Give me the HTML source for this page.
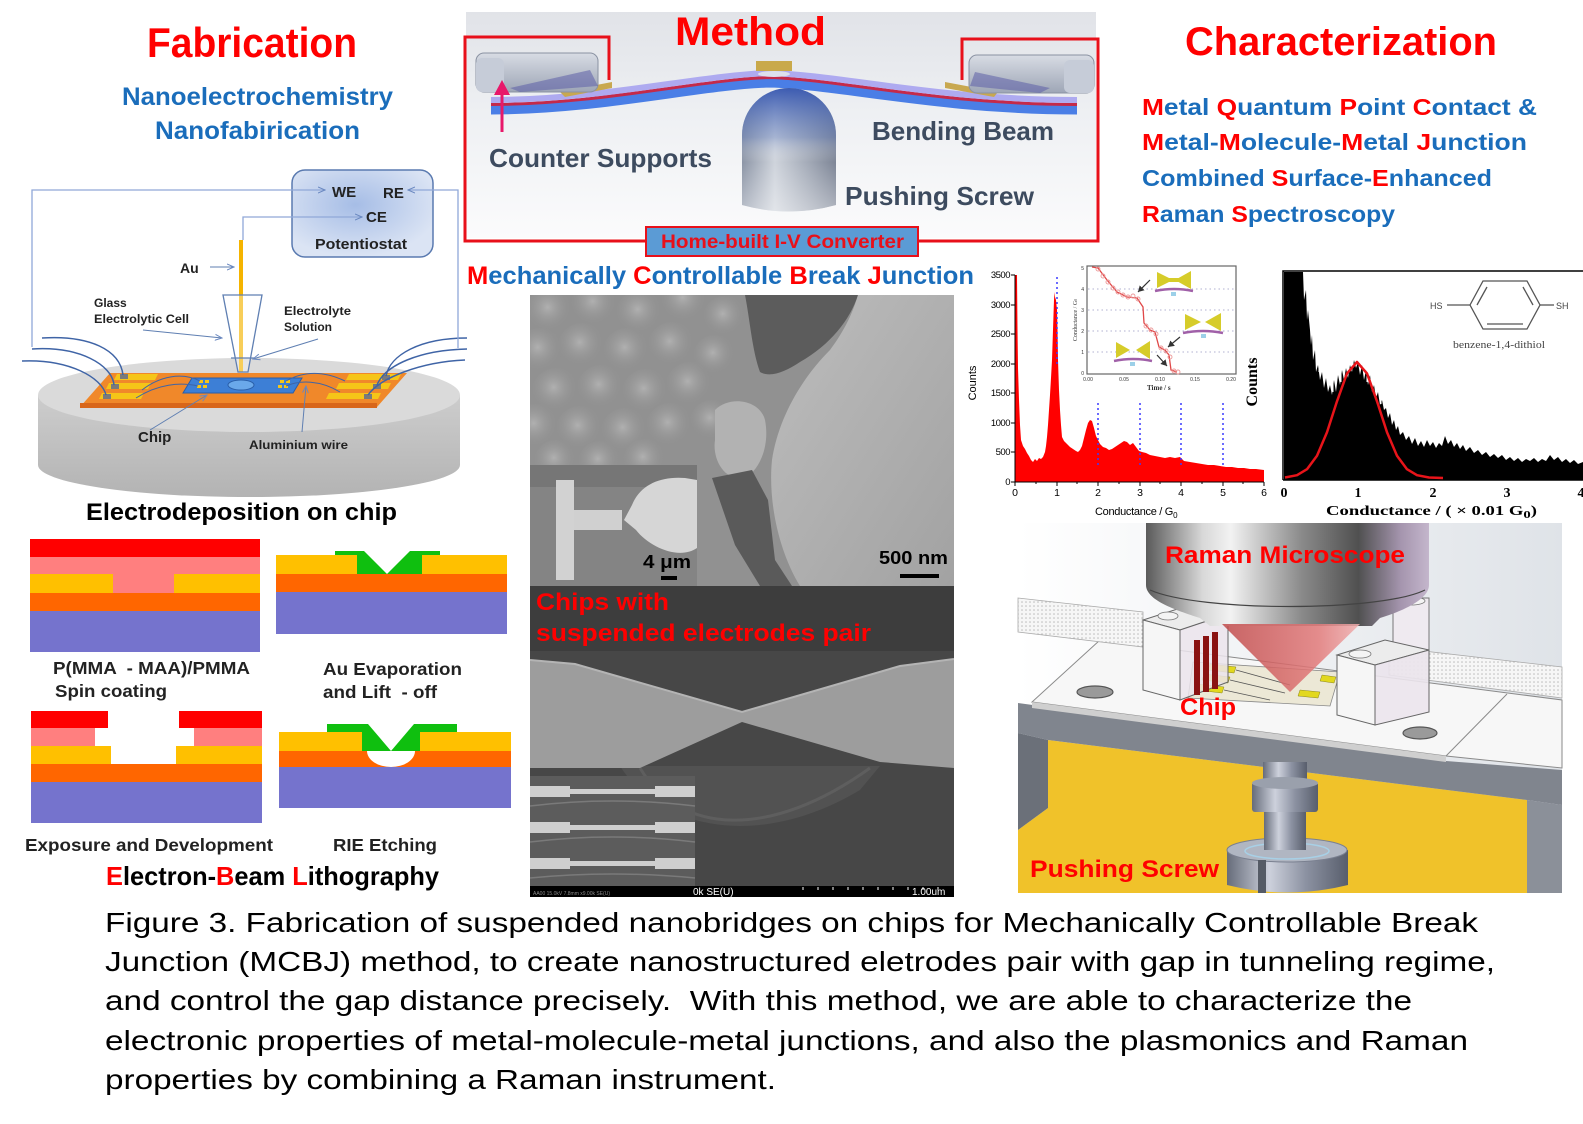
<!DOCTYPE html>
<html><head><meta charset="utf-8">
<style>
html,body{margin:0;padding:0;background:#fff;}
svg{display:block;}
text{font-family:"Liberation Sans",Arial,sans-serif;}
.b{font-weight:bold;}
.sr{font-family:"Liberation Serif","Times New Roman",serif;}
</style></head><body>
<svg width="1583" height="1124" viewBox="0 0 1583 1124" xmlns="http://www.w3.org/2000/svg">
<defs>
<linearGradient id="mbg" x1="0" y1="0" x2="0" y2="1"><stop offset="0" stop-color="#e1e3e8"/><stop offset="0.45" stop-color="#eef0f3"/><stop offset="1" stop-color="#fbfbfc"/></linearGradient>
<linearGradient id="sup" x1="0" y1="0" x2="0" y2="1"><stop offset="0" stop-color="#d8dce4"/><stop offset="1" stop-color="#9ea6b6"/></linearGradient>
<linearGradient id="scrH" x1="0" y1="0" x2="1" y2="0"><stop offset="0" stop-color="#8c95a6"/><stop offset="0.35" stop-color="#cfd4dc"/><stop offset="0.7" stop-color="#a4abb8"/><stop offset="1" stop-color="#7d8596"/></linearGradient>
<linearGradient id="scrV" x1="0" y1="0" x2="0" y2="1"><stop offset="0" stop-color="#3656b0" stop-opacity="0.95"/><stop offset="0.4" stop-color="#5a78c0" stop-opacity="0.35"/><stop offset="0.6" stop-color="#ffffff" stop-opacity="0"/><stop offset="1" stop-color="#ffffff" stop-opacity="0.4"/></linearGradient>
<radialGradient id="pot" cx="0.45" cy="0.4" r="0.6"><stop offset="0" stop-color="#a6bde6"/><stop offset="1" stop-color="#dbe4f4"/></radialGradient>
<linearGradient id="dside" x1="0" y1="0" x2="0" y2="1"><stop offset="0" stop-color="#cdcdcd"/><stop offset="1" stop-color="#b3b3b3"/></linearGradient>
<radialGradient id="bub" cx="0.45" cy="0.4" r="0.55"><stop offset="0" stop-color="#b0b0b0"/><stop offset="1" stop-color="#8c8c8c" stop-opacity="0"/></radialGradient>
<linearGradient id="blob" x1="0" y1="0" x2="1" y2="1"><stop offset="0" stop-color="#bdbdbd"/><stop offset="1" stop-color="#a2a2a2"/></linearGradient>
<linearGradient id="obj" x1="0" y1="0" x2="1" y2="0"><stop offset="0" stop-color="#5a5a5a"/><stop offset="0.2" stop-color="#d8d8d8"/><stop offset="0.3" stop-color="#f2f2f2"/><stop offset="0.55" stop-color="#8a8a8a"/><stop offset="0.75" stop-color="#505050"/><stop offset="0.9" stop-color="#a595ae"/><stop offset="1" stop-color="#c4b6cc"/></linearGradient>
<linearGradient id="cone" x1="0" y1="0" x2="1" y2="0"><stop offset="0" stop-color="#c04a4a"/><stop offset="0.7" stop-color="#e27a7a"/><stop offset="1" stop-color="#f0b0b0"/></linearGradient>
<linearGradient id="met" x1="0" y1="0" x2="1" y2="0"><stop offset="0" stop-color="#666c7a"/><stop offset="0.35" stop-color="#cdd1dc"/><stop offset="0.65" stop-color="#8c92a2"/><stop offset="1" stop-color="#585e6c"/></linearGradient>
<linearGradient id="rbg" x1="0" y1="0" x2="1" y2="0"><stop offset="0" stop-color="#ffffff"/><stop offset="1" stop-color="#dfe3e8"/></linearGradient>
<pattern id="dots" width="4" height="4" patternUnits="userSpaceOnUse"><rect width="4" height="4" fill="#f6f6f6"/><circle cx="2" cy="2" r="0.8" fill="#bcbcbc"/></pattern>
<clipPath id="semTop"><rect x="530" y="295" width="424" height="291"/></clipPath>
<clipPath id="semBot"><rect x="530" y="586" width="424" height="311"/></clipPath>
<marker id="ah" markerWidth="8" markerHeight="8" refX="7" refY="4" orient="auto" markerUnits="userSpaceOnUse"><path d="M0,1 L7,4 L0,7" fill="none" stroke="#6a88c0" stroke-width="1"/></marker>
<marker id="ak" markerWidth="7" markerHeight="7" refX="6" refY="3.5" orient="auto" markerUnits="userSpaceOnUse"><path d="M0,0 L6,3.5 L0,7 Z" fill="#333"/></marker>
</defs>

<!-- ===== Top titles ===== -->
<text x="147" y="57" class="b" font-size="42" fill="#f00" textLength="210" lengthAdjust="spacingAndGlyphs">Fabrication</text>
<text x="122" y="105" class="b" font-size="25" fill="#1a6dbb" textLength="271" lengthAdjust="spacingAndGlyphs">Nanoelectrochemistry</text>
<text x="155" y="139" class="b" font-size="25" fill="#1a6dbb" textLength="205" lengthAdjust="spacingAndGlyphs">Nanofabirication</text>

<text x="1185" y="55" class="b" font-size="40" fill="#f00" textLength="312" lengthAdjust="spacingAndGlyphs">Characterization</text>
<g class="b" font-size="23" fill="#1a6dbb">
<text x="1142" y="115" class="b" textLength="395" lengthAdjust="spacingAndGlyphs"><tspan fill="#f00">M</tspan>etal <tspan fill="#f00">Q</tspan>uantum <tspan fill="#f00">P</tspan>oint <tspan fill="#f00">C</tspan>ontact &amp;</text>
<text x="1142" y="150" class="b" textLength="385" lengthAdjust="spacingAndGlyphs"><tspan fill="#f00">M</tspan>etal-<tspan fill="#f00">M</tspan>olecule-<tspan fill="#f00">M</tspan>etal <tspan fill="#f00">J</tspan>unction</text>
<text x="1142" y="186" class="b" textLength="350" lengthAdjust="spacingAndGlyphs">Combined <tspan fill="#f00">S</tspan>urface-<tspan fill="#f00">E</tspan>nhanced</text>
<text x="1142" y="222" class="b" textLength="253" lengthAdjust="spacingAndGlyphs"><tspan fill="#f00">R</tspan>aman <tspan fill="#f00">S</tspan>pectroscopy</text>
</g>

<!-- ===== Method panel ===== -->
<rect x="466" y="12" width="630" height="226" fill="url(#mbg)"/>
<g fill="none" stroke-linecap="butt">
<path d="M491,97 C600,97 700,72 770,70 C840,72 940,97 1077,97" stroke="#4a7ee6" stroke-width="9" transform="translate(0,13)"/>
<path d="M491,97 C600,97 700,72 770,70 C840,72 940,97 1077,97" stroke="#c42a4a" stroke-width="3" transform="translate(0,7.5)"/>
<path d="M491,97 C600,97 700,72 770,70 C840,72 940,97 1077,97" stroke="#aeaaf0" stroke-width="6" transform="translate(0,3)"/>
</g>
<polygon points="560,92 612,82 612,88 565,97" fill="#c8a850"/>
<polygon points="945,82 998,92 994,97 945,88" fill="#c8a850"/>
<rect x="756" y="61" width="36" height="10" fill="#c9a94a"/>
<ellipse cx="774" cy="74" rx="16" ry="3" fill="#dde0ee"/>
<rect x="476" y="53" width="122" height="39" rx="8" fill="url(#sup)" stroke="#8a92a2" stroke-width="1"/>
<rect x="476" y="58" width="28" height="34" rx="6" fill="#c6ccd8"/>
<polygon points="510,88 590,70 598,86 520,92" fill="#5d5fa8" opacity="0.55"/>
<rect x="969" y="55" width="125" height="38" rx="8" fill="url(#sup)" stroke="#8a92a2" stroke-width="1"/>
<rect x="1064" y="60" width="30" height="33" rx="6" fill="#c6ccd8"/>
<polygon points="975,72 1050,88 1040,93 970,86" fill="#5d5fa8" opacity="0.55"/>
<path d="M742,135 A47,47 0 0 1 836,135 V205 Q789,218 742,205 Z" fill="url(#scrH)"/>
<path d="M742,135 A47,47 0 0 1 836,135 V205 Q789,218 742,205 Z" fill="url(#scrV)"/>
<line x1="502" y1="132" x2="502" y2="92" stroke="#e8186a" stroke-width="3"/>
<polygon points="502,80 494,95 510,95" fill="#e8186a"/>
<path d="M646,241 H465 V37 H609 V80 M962,80 V39 H1098 V241 H918" fill="none" stroke="#e8101a" stroke-width="3"/>
<rect x="646" y="227" width="272" height="29" fill="#5b9bd5" stroke="#e8101a" stroke-width="2"/>
<text x="661" y="248" class="b" font-size="19" fill="#e8101a" textLength="243" lengthAdjust="spacingAndGlyphs">Home-built I-V Converter</text>
<text x="675" y="45" class="b" font-size="40" fill="#f00" textLength="151" lengthAdjust="spacingAndGlyphs">Method</text>
<g class="b" font-size="26" fill="#3d4b5f">
<text x="489" y="167" class="b" textLength="223" lengthAdjust="spacingAndGlyphs">Counter Supports</text>
<text x="872" y="140" class="b" textLength="182" lengthAdjust="spacingAndGlyphs">Bending Beam</text>
<text x="845" y="205" class="b" textLength="189" lengthAdjust="spacingAndGlyphs">Pushing Screw</text>
</g>
<text x="467" y="284" class="b" font-size="25" fill="#1a6dbb" textLength="507" lengthAdjust="spacingAndGlyphs"><tspan fill="#f00">M</tspan>echanically <tspan fill="#f00">C</tspan>ontrollable <tspan fill="#f00">B</tspan>reak <tspan fill="#f00">J</tspan>unction</text>

<!-- ===== Electrodeposition diagram ===== -->
<path d="M38,395 V465 A211,32 0 0 0 460,465 V395 Z" fill="url(#dside)"/>
<ellipse cx="249" cy="395" rx="211" ry="37" fill="#dadada"/>
<polygon points="110,373 407,373 377,407 80,407" fill="#f0882a"/>
<polygon points="80,403 377,403 377,408 80,408" fill="#d8661a"/>
<g fill="#f5c518">
<polygon points="117,374 158,374 155,380 114,380"/>
<polygon points="109,383 151,383 148,389 106,389"/>
<polygon points="102,393 144,393 141,399 99,399"/>
<polygon points="349,374 401,374 398,380 346,380"/>
<polygon points="339,383 391,383 388,389 336,389"/>
<polygon points="329,393 381,393 378,399 326,399"/>
</g>
<g fill="#7a7a7a">
<rect x="120" y="374" width="8" height="5"/><rect x="111" y="384" width="8" height="5"/><rect x="103" y="394" width="8" height="5"/>
<rect x="382" y="375" width="8" height="5"/><rect x="373" y="384" width="8" height="5"/><rect x="364" y="394" width="8" height="5"/>
</g>
<polygon points="192,378 302,378 293,393 183,393" fill="#3d7fd6" stroke="#2a5ea8" stroke-width="1"/>
<g fill="#f5c518"><rect x="199" y="380" width="4" height="3"/><rect x="205" y="380" width="4" height="3"/><rect x="197" y="385" width="4" height="3"/><rect x="203" y="385" width="4" height="3"/><rect x="280" y="380" width="4" height="3"/><rect x="286" y="380" width="4" height="3"/><rect x="278" y="385" width="4" height="3"/><rect x="284" y="385" width="4" height="3"/></g>
<ellipse cx="241" cy="385" rx="13" ry="5" fill="#6aa8ea" stroke="#2a5ea8" stroke-width="1"/>
<g fill="none" stroke="#3f64a6" stroke-width="1.5">
<path d="M42,338 C90,335 120,350 123,375"/>
<path d="M32,349 C80,346 112,365 114,385"/>
<path d="M22,361 C70,359 102,378 106,395"/>
<path d="M467,338 C420,338 390,355 386,376"/>
<path d="M467,349 C420,350 385,365 377,385"/>
<path d="M465,360 C420,362 380,378 368,395"/>
</g>
<g fill="none" stroke="#3f64a6" stroke-width="1">
<path d="M142,390 C160,376 182,372 200,381"/>
<path d="M136,398 C158,384 180,382 198,386"/>
<path d="M345,381 C322,370 302,372 286,381"/>
<path d="M340,392 C320,380 300,380 286,386"/>
</g>
<rect x="239" y="240" width="4" height="132" fill="#f5b400"/>
<polygon points="223,295 262,295 248,372 238,372" fill="#ffffff" fill-opacity="0.35" stroke="#5f7fb2" stroke-width="1.3"/>
<line x1="231" y1="358" x2="254" y2="358" stroke="#5f7fb2" stroke-width="1.2"/>
<rect x="292" y="170" width="141" height="87" rx="13" fill="url(#pot)" stroke="#5a7ab0" stroke-width="1.5"/>
<g fill="none" stroke="#90a8d8" stroke-width="1.3">
<polyline points="32,347 32,190 325,190" marker-end="url(#ah)"/>
<polyline points="458,348 458,190 408,190" marker-end="url(#ah)"/>
<polyline points="243,240 243,217 362,217" marker-end="url(#ah)"/>
</g>
<g fill="none" stroke="#5f7fb2" stroke-width="1">
<line x1="210" y1="267" x2="234" y2="267" marker-end="url(#ah)"/>
<line x1="143" y1="330" x2="222" y2="338" marker-end="url(#ah)"/>
<line x1="318" y1="339" x2="253" y2="359" marker-end="url(#ah)"/>
<line x1="150" y1="430" x2="207" y2="395" marker-end="url(#ah)"/>
<line x1="302" y1="432" x2="306" y2="386" marker-end="url(#ah)"/>
</g>
<g class="b" fill="#222">
<text x="332" y="197" class="b" font-size="15">WE</text>
<text x="383" y="198" class="b" font-size="15">RE</text>
<text x="366" y="222" class="b" font-size="15">CE</text>
<text x="315" y="249" class="b" font-size="15" textLength="92" lengthAdjust="spacingAndGlyphs">Potentiostat</text>
<text x="180" y="273" class="b" font-size="14">Au</text>
<text x="94" y="307" class="b" font-size="12">Glass</text>
<text x="94" y="323" class="b" font-size="12" textLength="95" lengthAdjust="spacingAndGlyphs">Electrolytic Cell</text>
<text x="284" y="315" class="b" font-size="12" textLength="67" lengthAdjust="spacingAndGlyphs">Electrolyte</text>
<text x="284" y="331" class="b" font-size="12">Solution</text>
<text x="138" y="442" class="b" font-size="15">Chip</text>
<text x="249" y="449" class="b" font-size="12" textLength="99" lengthAdjust="spacingAndGlyphs">Aluminium wire</text>
</g>
<text x="86" y="520" class="b" font-size="24" fill="#000" textLength="311" lengthAdjust="spacingAndGlyphs">Electrodeposition on chip</text>

<!-- ===== EBL panels ===== -->
<rect x="30" y="539" width="230" height="18" fill="#ff0000"/>
<rect x="30" y="557" width="230" height="17" fill="#ff7f7f"/>
<rect x="30" y="574" width="230" height="19" fill="#ffc000"/>
<rect x="113" y="574" width="61" height="19" fill="#ff7f7f"/>
<rect x="30" y="593" width="230" height="18" fill="#ff6600"/>
<rect x="30" y="611" width="230" height="41" fill="#7573cd"/>
<rect x="276" y="555" width="231" height="19" fill="#ffc000"/>
<rect x="276" y="574" width="231" height="18" fill="#ff6600"/>
<rect x="276" y="592" width="231" height="42" fill="#7573cd"/>
<rect x="357" y="555" width="65" height="19" fill="#ffffff"/>
<polygon points="335,551 364,551 387,574 357,574 357,555 335,555" fill="#0fbf0f"/>
<polygon points="410,551 440,551 440,555 422,555 422,574 387,574" fill="#0fbf0f"/>
<rect x="31" y="711" width="77" height="17" fill="#ff0000"/>
<rect x="179" y="711" width="83" height="17" fill="#ff0000"/>
<rect x="31" y="728" width="64" height="18" fill="#ff7f7f"/>
<rect x="194" y="728" width="68" height="18" fill="#ff7f7f"/>
<rect x="31" y="746" width="80" height="18" fill="#ffc000"/>
<rect x="176" y="746" width="86" height="18" fill="#ffc000"/>
<rect x="31" y="764" width="231" height="18" fill="#ff6600"/>
<rect x="31" y="782" width="231" height="41" fill="#7573cd"/>
<rect x="279" y="732" width="232" height="19" fill="#ffc000"/>
<rect x="279" y="751" width="232" height="16" fill="#ff6600"/>
<rect x="279" y="767" width="232" height="41" fill="#7573cd"/>
<rect x="362" y="732" width="58" height="19" fill="#ffffff"/>
<path d="M367,751 A24,16 0 0 0 415,751 Z" fill="#ffffff"/>
<polygon points="327,724 368,724 391,751 362,751 362,732 327,732" fill="#0fbf0f"/>
<polygon points="414,724 457,724 457,732 420,732 420,751 391,751" fill="#0fbf0f"/>
<g class="b" font-size="17.5" fill="#222">
<text x="53" y="674" class="b" textLength="197" lengthAdjust="spacingAndGlyphs" xml:space="preserve">P(MMA  - MAA)/PMMA</text>
<text x="55" y="697" class="b" textLength="112" lengthAdjust="spacingAndGlyphs">Spin coating</text>
<text x="323" y="675" class="b" textLength="139" lengthAdjust="spacingAndGlyphs">Au Evaporation</text>
<text x="323" y="698" class="b" textLength="114" lengthAdjust="spacingAndGlyphs" xml:space="preserve">and Lift  - off</text>
<text x="25" y="851" class="b" textLength="248" lengthAdjust="spacingAndGlyphs">Exposure and Development</text>
<text x="333" y="851" class="b" textLength="104" lengthAdjust="spacingAndGlyphs">RIE Etching</text>
</g>
<text x="106" y="885" class="b" font-size="26" fill="#000" textLength="333" lengthAdjust="spacingAndGlyphs"><tspan fill="#f00">E</tspan>lectron-<tspan fill="#f00">B</tspan>eam <tspan fill="#f00">L</tspan>ithography</text>

<!-- ===== SEM panel ===== -->
<g clip-path="url(#semTop)">
<rect x="530" y="295" width="424" height="291" fill="#919191"/>
<g fill="url(#bub)">
<circle cx="550" cy="312" r="24"/><circle cx="595" cy="306" r="24"/><circle cx="640" cy="314" r="24"/><circle cx="685" cy="302" r="24"/><circle cx="725" cy="318" r="22"/>
<circle cx="540" cy="352" r="24"/><circle cx="582" cy="347" r="24"/><circle cx="627" cy="352" r="24"/><circle cx="672" cy="346" r="24"/><circle cx="715" cy="357" r="22"/>
<circle cx="556" cy="392" r="24"/><circle cx="601" cy="389" r="24"/><circle cx="646" cy="393" r="24"/><circle cx="690" cy="386" r="24"/>
<circle cx="536" cy="428" r="24"/><circle cx="580" cy="430" r="24"/><circle cx="625" cy="432" r="24"/><circle cx="670" cy="427" r="24"/><circle cx="712" cy="422" r="22"/>
<circle cx="556" cy="462" r="22"/><circle cx="600" cy="463" r="22"/><circle cx="645" cy="461" r="22"/>
</g>
<path d="M745,295 H858 C850,320 830,345 800,362 C785,372 770,378 760,372 C752,350 750,320 745,295 Z" fill="#5c5c5c"/>
<path d="M858,295 H954 V586 H800 C778,550 768,500 772,460 C778,420 800,380 830,350 C845,330 853,312 858,295 Z" fill="url(#blob)"/>
<path d="M715,410 C730,395 760,400 765,420 C770,445 760,470 745,478 C725,482 712,460 715,440 Z" fill="#b2b2b2"/>
<polygon points="712,478 752,470 768,500 775,560 792,586 760,586 735,545" fill="#5a5a5a"/>
<rect x="530" y="465" width="167" height="121" fill="#848484"/>
<rect x="530" y="465" width="167" height="22" fill="#767676"/>
<rect x="556" y="480" width="18" height="100" fill="#d2d2d2"/>
<rect x="574" y="510" width="48" height="20" fill="#d0d0d0"/>
<path d="M624,520 L632,505 C640,485 660,476 685,478 L697,480 V548 C680,560 650,548 636,530 Z" fill="#d6d6d6"/>
</g>
<g fill="#000">
<text x="643" y="568" class="b" font-size="18" textLength="48" lengthAdjust="spacingAndGlyphs">4 μm</text>
<rect x="661" y="576" width="16" height="4"/>
<text x="879" y="564" class="b" font-size="18" textLength="69" lengthAdjust="spacingAndGlyphs">500 nm</text>
<rect x="900" y="574" width="39" height="4"/>
</g>
<g clip-path="url(#semBot)">
<rect x="530" y="586" width="424" height="311" fill="#474747"/>
<rect x="530" y="586" width="424" height="65" fill="#3d3d3d"/>
<path d="M620,766 C660,830 760,850 860,790 L880,766 Z" fill="#525252"/>
<path d="M640,768 C680,835 770,840 870,768" fill="none" stroke="#5e5e5e" stroke-width="3"/>
<polygon points="530,660 575,664 742,712 900,666 954,659 954,768 880,762 742,722 640,768 530,768" fill="#9d9d9d"/>
<polyline points="530,660 575,664 742,712 900,666 954,659" fill="none" stroke="#b4b4b4" stroke-width="2"/>
<rect x="530" y="776" width="165" height="112" fill="#5c5c5c"/>
<g fill="#cfcfcf">
<rect x="530" y="786" width="40" height="11"/><rect x="570" y="789" width="85" height="5"/><rect x="655" y="786" width="40" height="11"/>
<rect x="530" y="822" width="40" height="11"/><rect x="570" y="825" width="85" height="5"/><rect x="655" y="822" width="40" height="11"/>
<rect x="530" y="858" width="40" height="11"/><rect x="570" y="861" width="85" height="5"/><rect x="655" y="858" width="40" height="11"/>
</g>
<g fill="none" stroke="#7a7a7a" stroke-width="1.5"><path d="M530,806 Q612,796 695,806"/><path d="M530,842 Q612,832 695,842"/><path d="M530,878 Q612,870 695,878"/></g>
<rect x="530" y="886" width="424" height="11" fill="#000"/>
</g>
<text x="536" y="610" class="b" font-size="24" fill="#ff0000" textLength="133" lengthAdjust="spacingAndGlyphs">Chips with</text>
<text x="536" y="641" class="b" font-size="24" fill="#ff0000" textLength="335" lengthAdjust="spacingAndGlyphs">suspended electrodes pair</text>
<text x="693" y="895" font-size="10" fill="#fff">0k SE(U)</text>
<text x="912" y="895" font-size="10" fill="#fff">1.00um</text>
<path d="M803,887 v3 M818,887 v3 M833,887 v3 M848,887 v3 M863,887 v3 M878,887 v3 M893,887 v3 M908,887 v3 M923,887 v3 M938,887 v3" stroke="#fff" stroke-width="1"/>
<text x="533" y="895" font-size="5" fill="#888">AA00 15.0kV 7.8mm x9.00k SE(U)</text>

<!-- ===== Graph 1 ===== -->
<path d="M1015,482 L1015,275 L1017,275 L1017.5,330 L1018,368 L1019,400 L1020,425 L1021,440 L1023,446 L1025,449 L1027,453 L1029,456 L1031,460 L1033,462 L1035,459 L1037,461 L1039,458 L1041,459 L1043,457 L1045,452 L1046,446 L1047,437 L1048,425 L1049,410 L1050,395 L1051,378 L1052,360 L1053,330 L1054,300 L1054.5,292 L1055,297 L1056,300 L1057,310 L1057.5,330 L1058,360 L1059,390 L1060,410 L1061,425 L1062,437 L1064,441 L1066,443 L1068,445 L1070,447 L1073,449 L1076,451 L1078,452 L1080,450 L1082,446 L1084,438 L1086,430 L1088,423 L1090,420 L1092,421 L1094,428 L1096,436 L1098,440 L1100,444 L1103,447 L1106,448 L1109,450 L1112,449 L1115,447 L1118,445 L1121,443 L1124,441 L1127,442 L1130,445 L1133,443 L1136,447 L1139,451 L1142,452 L1146,453 L1150,455 L1155,456 L1160,457 L1165,458 L1170,457 L1175,458 L1180,457 L1184,461 L1190,462 L1196,463 L1202,464 L1208,465 L1214,465 L1220,466 L1226,467 L1232,467 L1238,468 L1244,468 L1250,469 L1256,469 L1264,470 L1264,482 Z" fill="#ff0000"/>
<g stroke="#3a3aff" stroke-width="1.5" stroke-dasharray="2,3">
<line x1="1057" y1="277" x2="1057" y2="367"/>
<line x1="1098" y1="403" x2="1098" y2="465"/>
<line x1="1140" y1="403" x2="1140" y2="465"/>
<line x1="1181" y1="403" x2="1181" y2="465"/>
<line x1="1223" y1="403" x2="1223" y2="465"/>
</g>
<g stroke="#000" stroke-width="1" fill="none">
<line x1="1015" y1="275" x2="1015" y2="482"/>
<line x1="1015" y1="482" x2="1264" y2="482"/>
<path d="M1011,275 h4 M1011,305 h4 M1011,334 h4 M1011,364 h4 M1011,393 h4 M1011,423 h4 M1011,452 h4 M1011,482 h4"/>
<path d="M1015,482 v4 M1057,482 v4 M1098,482 v4 M1140,482 v4 M1181,482 v4 M1223,482 v4 M1264,482 v4 M1036,482 v2 M1077,482 v2 M1119,482 v2 M1160,482 v2 M1202,482 v2 M1243,482 v2"/>
</g>
<g font-size="9.5" fill="#000" text-anchor="end" letter-spacing="-0.5">
<text x="1010" y="278">3500</text><text x="1010" y="308">3000</text><text x="1010" y="337">2500</text><text x="1010" y="367">2000</text><text x="1010" y="396">1500</text><text x="1010" y="426">1000</text><text x="1010" y="455">500</text><text x="1010" y="485">0</text>
</g>
<g font-size="10.5" fill="#000" text-anchor="middle">
<text x="1015" y="496">0</text><text x="1057" y="496">1</text><text x="1098" y="496">2</text><text x="1140" y="496">3</text><text x="1181" y="496">4</text><text x="1223" y="496">5</text><text x="1264" y="496">6</text>
</g>
<text transform="translate(976,383) rotate(-90)" font-size="11" text-anchor="middle" fill="#000">Counts</text>
<text x="1095" y="515" font-size="11" fill="#000" letter-spacing="-0.3">Conductance / G<tspan font-size="8" dy="3">0</tspan></text>
<rect x="1087" y="266" width="149" height="108" fill="#fff" stroke="#666" stroke-width="1.2"/>
<g stroke="#b0b0d0" stroke-width="1" stroke-dasharray="1.5,3">
<line x1="1088" y1="289" x2="1235" y2="289"/><line x1="1088" y1="310" x2="1235" y2="310"/><line x1="1088" y1="331" x2="1235" y2="331"/><line x1="1088" y1="352" x2="1235" y2="352"/>
</g>
<polyline points="1092,267 1098,268 1107,280 1117,292 1127,297 1137,298 1143,307 1144,323 1150,330 1155,332 1159,347 1165,350 1169,355 1171,370 1177,372" fill="none" stroke="#e04848" stroke-width="1.3"/>
<g fill="none" stroke="#ec9a9a" stroke-width="0.9">
<circle cx="1098" cy="269" r="2"/><circle cx="1103" cy="276" r="2"/><circle cx="1108" cy="282" r="2"/><circle cx="1113" cy="288" r="2"/><circle cx="1118" cy="292" r="2"/><circle cx="1123" cy="295" r="2"/><circle cx="1128" cy="297" r="2"/><circle cx="1133" cy="296" r="2"/><circle cx="1138" cy="299" r="2"/><circle cx="1146" cy="326" r="2"/><circle cx="1151" cy="330" r="2"/><circle cx="1156" cy="334" r="2"/><circle cx="1161" cy="348" r="2"/><circle cx="1166" cy="351" r="2"/><circle cx="1170" cy="357" r="2"/><circle cx="1174" cy="371" r="2"/><circle cx="1178" cy="372" r="2"/>
</g>
<g>
<path d="M1155,291 Q1174,287 1193,291" fill="none" stroke="#a060a8" stroke-width="2.5"/>
<polygon points="1157,272 1173,280 1157,288" fill="#d6cc2a"/><polygon points="1191,271 1175,280 1191,289" fill="#d6cc2a"/><rect x="1158" y="278" width="32" height="4" fill="#d6cc2a"/>
<rect x="1171" y="292" width="5" height="4" fill="#9cd0e8"/>
<path d="M1183,333 Q1203,329 1223,333" fill="none" stroke="#a060a8" stroke-width="2.5"/>
<polygon points="1185,314 1201,322 1185,330" fill="#d6cc2a"/><polygon points="1221,313 1205,322 1221,331" fill="#d6cc2a"/>
<rect x="1201" y="334" width="5" height="4" fill="#9cd0e8"/>
<path d="M1114,361 Q1133,357 1152,361" fill="none" stroke="#a060a8" stroke-width="2.5"/>
<polygon points="1116,342 1130,350 1116,358" fill="#d6cc2a"/><polygon points="1150,341 1136,350 1150,359" fill="#d6cc2a"/>
<rect x="1130" y="362" width="5" height="4" fill="#9cd0e8"/>
</g>
<g stroke="#333" stroke-width="1.2">
<line x1="1150" y1="280" x2="1138" y2="292" marker-end="url(#ak)"/>
<line x1="1180" y1="337" x2="1168" y2="347" marker-end="url(#ak)"/>
<line x1="1157" y1="355" x2="1167" y2="366" marker-end="url(#ak)"/>
</g>
<g class="sr" font-size="5" fill="#333">
<text x="1084" y="270" text-anchor="end">5</text><text x="1084" y="291" text-anchor="end">4</text><text x="1084" y="312" text-anchor="end">3</text><text x="1084" y="333" text-anchor="end">2</text><text x="1084" y="354" text-anchor="end">1</text><text x="1084" y="375" text-anchor="end">0</text>
<text x="1088" y="381" text-anchor="middle">0.00</text><text x="1124" y="381" text-anchor="middle">0.05</text><text x="1160" y="381" text-anchor="middle">0.10</text><text x="1195" y="381" text-anchor="middle">0.15</text><text x="1231" y="381" text-anchor="middle">0.20</text>
</g>
<text x="1147" y="390" class="sr b" font-size="7" fill="#333">Time / s</text>
<text transform="translate(1077,320) rotate(-90)" class="sr" font-size="6" fill="#333" text-anchor="middle">Conductance / G<tspan font-size="4">0</tspan></text>

<!-- ===== Graph 2 ===== -->
<path d="M1284,480 V272 H1303 L1304,300 L1306,290 L1307,320 L1308,310 L1310,330 L1311,345 L1312,335 L1313,360 L1315,350 L1316,372 L1318,365 L1320,380 L1322,372 L1324,388 L1326,378 L1328,392 L1330,385 L1332,395 L1334,380 L1336,392 L1338,375 L1340,385 L1342,370 L1344,380 L1346,368 L1348,378 L1350,365 L1352,372 L1354,360 L1356,368 L1358,362 L1360,375 L1362,365 L1364,380 L1366,370 L1368,385 L1370,375 L1372,392 L1374,385 L1376,398 L1378,392 L1380,405 L1382,400 L1384,410 L1386,408 L1388,418 L1390,413 L1392,425 L1394,420 L1396,430 L1398,426 L1400,435 L1403,432 L1406,440 L1409,436 L1412,444 L1415,438 L1418,446 L1421,441 L1424,447 L1427,440 L1430,446 L1433,442 L1436,448 L1439,443 L1442,446 L1445,436 L1448,444 L1451,440 L1454,447 L1457,443 L1460,449 L1463,445 L1466,451 L1470,447 L1474,453 L1478,450 L1482,455 L1486,452 L1490,457 L1494,454 L1498,458 L1502,455 L1506,460 L1510,457 L1514,461 L1518,458 L1522,462 L1526,459 L1530,461 L1534,458 L1538,462 L1542,459 L1546,461 L1550,455 L1554,460 L1558,457 L1562,462 L1566,459 L1570,463 L1574,460 L1578,464 L1583,462 V480 Z" fill="#000"/>
<g stroke="#fff" stroke-width="1">
<line x1="1306" y1="272" x2="1306" y2="286"/><line x1="1319" y1="352" x2="1319" y2="372"/><line x1="1333" y1="374" x2="1333" y2="392"/><line x1="1341" y1="360" x2="1341" y2="382"/><line x1="1353" y1="350" x2="1353" y2="366"/><line x1="1367" y1="360" x2="1367" y2="382"/><line x1="1381" y1="390" x2="1381" y2="404"/>
</g>
<path d="M1283,480 V271 H1583" fill="none" stroke="#000" stroke-width="1.5"/>
<line x1="1283" y1="480" x2="1583" y2="480" stroke="#000" stroke-width="1.5"/>
<polyline points="1285,477.5 1297,475.2 1307,469.2 1317,455.8 1327,432.2 1337,401.3 1347,373.4 1357,362 1367,373.4 1377,401.3 1387,432.2 1397,455.8 1407,469.2 1417,475.2 1429,477.5 1443,478" fill="none" stroke="#e8141a" stroke-width="2.5" stroke-linejoin="round"/>
<g class="sr b" font-size="14" fill="#000" text-anchor="middle">
<text x="1284" y="497" class="sr b">0</text><text x="1358" y="497" class="sr b">1</text><text x="1433" y="497" class="sr b">2</text><text x="1507" y="497" class="sr b">3</text><text x="1581" y="497" class="sr b">4</text>
</g>
<text x="1326" y="515" class="sr b" font-size="14" fill="#000" textLength="211" lengthAdjust="spacingAndGlyphs">Conductance / ( × 0.01 G<tspan font-size="11" dy="3">0</tspan><tspan dy="-3">)</tspan></text>
<text transform="translate(1257,382) rotate(-90)" class="sr b" font-size="16" fill="#000" text-anchor="middle">Counts</text>
<g fill="none" stroke="#555" stroke-width="1.3">
<polygon points="1470,305 1483,281 1527,281 1540,305 1527,329 1483,329"/>
<line x1="1477" y1="305" x2="1487" y2="287"/>
<line x1="1523" y1="287" x2="1533" y2="305"/>
<line x1="1487" y1="324" x2="1523" y2="324"/>
<line x1="1447" y1="305" x2="1470" y2="305"/>
<line x1="1540" y1="305" x2="1554" y2="305"/>
</g>
<text x="1430" y="309" font-size="9" fill="#444">HS</text>
<text x="1556" y="309" font-size="9" fill="#444">SH</text>
<text x="1453" y="348" class="sr" font-size="11" fill="#444" textLength="92" lengthAdjust="spacingAndGlyphs">benzene-1,4-dithiol</text>

<!-- ===== Raman panel ===== -->
<rect x="1018" y="523" width="544" height="370" fill="url(#rbg)"/>
<polygon points="1048,740 1527,800 1527,893 1018,893 1018,830 1048,808" fill="#f0c22a"/>
<polygon points="1018,703 1446,761 1562,770 1562,805 1527,800 1048,740 1018,733" fill="#80858e"/>
<polygon points="1018,733 1048,740 1048,808 1018,830" fill="#6b7079"/>
<polygon points="1527,800 1562,805 1562,893 1527,893" fill="#8b9099"/>
<polygon points="1100,640 1562,700 1562,768 1446,756 1032,702" fill="#f7f7f7" stroke="#8a8a8a" stroke-width="1"/>
<polygon points="1032,702 1446,756 1446,762 1032,708" fill="#cfcfcf"/>
<line x1="1507" y1="694" x2="1446" y2="756" stroke="#8a8a8a" stroke-width="1"/>
<polygon points="1018,598 1143,612 1143,647 1018,632" fill="url(#dots)" stroke="#aaa" stroke-width="0.8"/>
<polygon points="1389,647 1562,667 1562,698 1389,675" fill="url(#dots)" stroke="#aaa" stroke-width="0.8"/>
<ellipse cx="1095" cy="692" rx="18" ry="6" fill="#9a9a9a" stroke="#555" stroke-width="1.2"/>
<ellipse cx="1420" cy="733" rx="17" ry="6" fill="#9a9a9a" stroke="#555" stroke-width="1.2"/>
<polygon points="1193,662 1340,672 1330,706 1188,698" fill="#ece8d6" stroke="#888" stroke-width="0.8"/>
<g fill="#e2d81e" stroke="#8a8520" stroke-width="0.5">
<polygon points="1210,664 1236,667 1234,673 1208,670"/>
<polygon points="1204,674 1230,677 1228,683 1202,680"/>
<polygon points="1198,684 1224,687 1222,693 1196,690"/>
<polygon points="1300,690 1320,692 1318,698 1298,696"/>
<polygon points="1322,675 1336,677 1334,683 1320,681"/>
</g>
<g stroke="#555" stroke-width="0.8"><line x1="1236" y1="670" x2="1290" y2="685"/><line x1="1230" y1="680" x2="1285" y2="693"/><line x1="1224" y1="690" x2="1270" y2="700"/></g>
<polygon points="1143,620 1190,605 1228,614 1180,630" fill="#ececec" stroke="#666" stroke-width="1"/>
<polygon points="1143,620 1180,630 1180,700 1143,690" fill="#f6f6f6" stroke="#666" stroke-width="1"/>
<polygon points="1180,630 1228,614 1228,682 1180,700" fill="#ebe4ec" stroke="#666" stroke-width="1" fill-opacity="0.85"/>
<ellipse cx="1168" cy="616" rx="10" ry="4" fill="#f4f4f4" stroke="#777" stroke-width="0.8"/>
<g fill="#8a1212"><rect x="1194" y="640" width="6" height="55"/><rect x="1203" y="636" width="6" height="56"/><rect x="1212" y="632" width="6" height="57"/></g>
<polygon points="1393,598 1429,598 1429,650 1393,660" fill="#efeaf0" stroke="#777" stroke-width="1"/>
<ellipse cx="1411" cy="601" rx="14" ry="4" fill="#f4f4f4" stroke="#777" stroke-width="0.8"/>
<polygon points="1337,655 1385,640 1429,650 1375,665" fill="#ececec" stroke="#666" stroke-width="1"/>
<polygon points="1337,655 1375,665 1375,725 1337,715" fill="#f6f6f6" stroke="#666" stroke-width="1"/>
<polygon points="1375,665 1429,650 1429,712 1375,725" fill="#ebe4ec" stroke="#666" stroke-width="1" fill-opacity="0.9"/>
<ellipse cx="1360" cy="654" rx="11" ry="4" fill="#f4f4f4" stroke="#777" stroke-width="0.8"/>
<path d="M1146,523 H1429 V585 C1429,600 1400,612 1380,618 L1372,626 H1210 L1200,618 C1175,610 1146,600 1146,585 Z" fill="url(#obj)"/>
<path d="M1150,590 C1200,612 1380,612 1425,590" fill="none" stroke="#444" stroke-width="1.2"/>
<polygon points="1222,624 1360,624 1290,692" fill="url(#cone)" opacity="0.85"/>
<rect x="1263" y="762" width="44" height="22" fill="url(#met)"/>
<rect x="1252" y="782" width="66" height="30" rx="3" fill="url(#met)"/>
<ellipse cx="1285" cy="783" rx="33" ry="6" fill="#9aa0ac"/>
<path d="M1227,850 V885 Q1287,900 1348,885 V850 Z" fill="url(#met)"/>
<ellipse cx="1287" cy="850" rx="60" ry="12" fill="#b0b6c2" stroke="#7a8090" stroke-width="1"/>
<ellipse cx="1287" cy="851" rx="42" ry="8" fill="none" stroke="#a8d0e6" stroke-width="1.5"/>
<rect x="1264" y="812" width="42" height="38" fill="url(#met)"/>
<rect x="1258" y="860" width="8" height="33" fill="#555b66"/>
<g class="b" font-size="24" fill="#f00">
<text x="1165" y="563" class="b" textLength="240" lengthAdjust="spacingAndGlyphs">Raman Microscope</text>
<text x="1180" y="715" class="b" textLength="56" lengthAdjust="spacingAndGlyphs">Chip</text>
<text x="1030" y="877" class="b" textLength="189" lengthAdjust="spacingAndGlyphs">Pushing Screw</text>
</g>

<!-- ===== Caption ===== -->
<g font-size="28" fill="#000">
<text x="105" y="932" textLength="1373" lengthAdjust="spacingAndGlyphs">Figure 3. Fabrication of suspended nanobridges on chips for Mechanically Controllable Break</text>
<text x="105" y="971" textLength="1390" lengthAdjust="spacingAndGlyphs">Junction (MCBJ) method, to create nanostructured eletrodes pair with gap in tunneling regime,</text>
<text x="105" y="1010" textLength="1307" lengthAdjust="spacingAndGlyphs" xml:space="preserve">and control the gap distance precisely.  With this method, we are able to characterize the</text>
<text x="105" y="1050" textLength="1363" lengthAdjust="spacingAndGlyphs">electronic properties of metal-molecule-metal junctions, and also the plasmonics and Raman</text>
<text x="105" y="1089" textLength="671" lengthAdjust="spacingAndGlyphs">properties by combining a Raman instrument.</text>
</g>
</svg>
</body></html>
